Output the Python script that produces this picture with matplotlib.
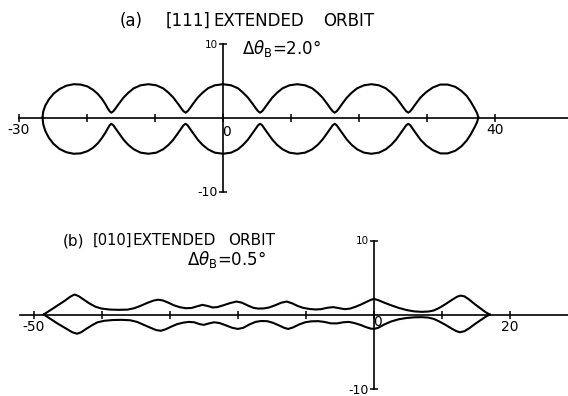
import matplotlib.pyplot as plt

W, H = 568, 396

# ---- panel (a): [111] extended orbit, dtheta_B = 2.0 deg
a_x = [-26.5, -26.4, -26.1, -25.6, -24.9, -24.0, -23.0, -21.9, -20.9, -19.9, -19.1, -18.4, -17.8, -17.3, -16.9, -16.65, -16.4,
       -16.1, -15.8, -15.3, -14.6, -13.9, -13.1, -12.1, -10.95, -9.8, -8.8, -8.0, -7.3, -6.6, -6.1, -5.8, -5.5,
       -5.2, -4.9, -4.4, -3.7, -3.0, -2.2, -1.2, 0.0, 1.2, 2.2, 2.95, 3.65, 4.35, 4.85, 5.15, 5.45,
       5.75, 6.05, 6.55, 7.25, 7.95, 8.75, 9.75, 10.9, 12.05, 13.1, 13.9, 14.6, 15.3, 15.8, 16.1, 16.4,
       16.7, 17.0, 17.5, 18.2, 18.9, 19.7, 20.7, 21.8, 22.9, 23.9, 24.7, 25.4, 26.1, 26.6, 26.9, 27.2,
       27.5, 27.8, 28.3, 29.0, 29.8, 30.8, 31.9, 33.0, 34.1, 35.0, 35.8, 36.4, 36.9, 37.3, 37.5]
a_top = [0.0, 0.8, 1.6, 2.4, 3.2, 3.85, 4.3, 4.5, 4.45, 4.2, 3.75, 3.2, 2.55, 1.85, 1.2, 0.85, 0.65,
         0.85, 1.2, 1.85, 2.7, 3.35, 3.95, 4.35, 4.5, 4.35, 3.95, 3.35, 2.7, 1.85, 1.2, 0.85, 0.65,
         0.85, 1.2, 1.85, 2.7, 3.35, 3.95, 4.35, 4.5, 4.35, 3.95, 3.35, 2.7, 1.85, 1.2, 0.85, 0.65,
         0.85, 1.2, 1.85, 2.7, 3.35, 3.95, 4.35, 4.5, 4.35, 3.95, 3.35, 2.7, 1.85, 1.2, 0.85, 0.65,
         0.85, 1.2, 1.85, 2.7, 3.35, 3.95, 4.35, 4.5, 4.35, 3.95, 3.35, 2.7, 1.85, 1.2, 0.85, 0.65,
         0.85, 1.2, 1.85, 2.7, 3.4, 4.05, 4.45, 4.45, 4.15, 3.6, 2.9, 2.1, 1.3, 0.6, 0.0]
a_bot = [0.0, -0.9, -1.8, -2.7, -3.55, -4.25, -4.7, -4.9, -4.85, -4.55, -4.1, -3.5, -2.8, -2.1, -1.45, -1.05, -0.85,
         -1.05, -1.45, -2.1, -3.0, -3.7, -4.3, -4.75, -4.9, -4.75, -4.3, -3.7, -3.0, -2.1, -1.45, -1.05, -0.85,
         -1.05, -1.45, -2.1, -3.0, -3.7, -4.3, -4.75, -4.9, -4.75, -4.3, -3.7, -3.0, -2.1, -1.45, -1.05, -0.85,
         -1.05, -1.45, -2.1, -3.0, -3.7, -4.3, -4.75, -4.9, -4.75, -4.3, -3.7, -3.0, -2.1, -1.45, -1.05, -0.85,
         -1.05, -1.45, -2.1, -3.0, -3.7, -4.3, -4.75, -4.9, -4.75, -4.3, -3.7, -3.0, -2.1, -1.45, -1.05, -0.85,
         -1.05, -1.45, -2.1, -3.0, -3.75, -4.4, -4.85, -4.85, -4.5, -3.9, -3.1, -2.25, -1.4, -0.65, 0.0]
a_ticks = [-30, -20, -10, 0, 10, 20, 30, 40]
a_ticklabels = ['-30', '', '', '', '', '', '', '40']

# ---- panel (b): [010] extended orbit, dtheta_B = 0.5 deg
b_top_x = [-48.5, -47.5, -46.5, -45.5, -44.6, -44.0, -43.4, -42.6, -41.8, -40.9, -40.0, -38.8, -37.5, -36.2,
           -35.2, -34.2, -33.2, -32.3, -31.7, -31.0, -30.2, -29.4, -28.5, -27.6, -26.8, -26.0, -25.2, -24.4,
           -23.7, -23.0, -22.1, -21.1, -20.2, -19.4, -18.5, -17.7, -17.0, -16.2, -15.4, -14.5, -13.6, -12.8,
           -12.0, -11.2, -10.4, -9.5, -8.6, -7.8, -6.9, -6.0, -5.1, -4.3, -3.5, -2.7, -1.9, -1.0, -0.4, 0.0,
           0.6, 1.5, 2.5, 3.6, 4.8, 5.9, 7.0, 8.0, 8.8, 9.6, 10.5, 11.4, 12.2, 12.7, 13.3, 14.0, 14.8, 15.6,
           16.4, 17.0]
b_top_y = [0.0, 0.6, 1.2, 1.8, 2.4, 2.7, 2.5, 2.0, 1.5, 1.05, 0.8, 0.67, 0.63, 0.66,
           0.85, 1.2, 1.6, 1.9, 2.0, 1.9, 1.6, 1.25, 0.98, 0.85, 0.88, 1.1, 1.3, 1.15,
           0.95, 1.0, 1.25, 1.55, 1.75, 1.6, 1.2, 0.9, 0.8, 0.82, 0.95, 1.25, 1.6, 1.75,
           1.5, 1.15, 0.9, 0.75, 0.68, 0.72, 0.9, 1.0, 0.85, 0.72, 0.8, 1.05, 1.35, 1.75, 2.0, 2.1,
           1.95, 1.6, 1.25, 0.9, 0.6, 0.42, 0.36, 0.4, 0.55, 0.9, 1.4, 1.95, 2.4, 2.55, 2.45, 2.0, 1.4, 0.85,
           0.3, 0.0]
b_bot_x = [-48.5, -47.5, -46.5, -45.4, -44.3, -43.6, -43.0, -42.2, -41.4, -40.6, -39.6, -38.4, -37.0, -35.8,
           -34.8, -33.8, -32.8, -32.0, -31.3, -30.6, -29.8, -28.9, -28.0, -27.2, -26.4, -25.6, -25.0, -24.2,
           -23.5, -22.7, -21.8, -20.8, -20.0, -19.2, -18.3, -17.4, -16.6, -15.7, -14.9, -14.0, -13.2, -12.6,
           -11.9, -11.0, -10.1, -9.2, -8.2, -7.3, -6.3, -5.4, -4.5, -3.7, -2.9, -2.0, -1.2, -0.5, 0.0,
           0.6, 1.5, 2.5, 3.6, 4.8, 5.9, 7.0, 8.0, 8.8, 9.6, 10.5, 11.4, 12.1, 12.6, 13.3, 14.0, 14.8, 15.6,
           16.4, 17.0]
b_bot_y = [0.0, -0.6, -1.2, -1.8, -2.4, -2.6, -2.4, -1.9, -1.45, -1.05, -0.85, -0.75, -0.72, -0.78,
           -1.0, -1.4, -1.8, -2.1, -2.2, -2.0, -1.65, -1.3, -1.1, -1.0, -1.05, -1.3, -1.4, -1.2,
           -1.05, -1.15, -1.45, -1.8, -1.95, -1.8, -1.35, -1.0, -0.88, -0.9, -1.1, -1.45, -1.8, -1.95,
           -1.75, -1.35, -1.05, -0.92, -0.9, -1.0, -1.2, -1.2, -1.05, -1.0, -1.15, -1.4, -1.7, -1.9, -1.95,
           -1.8, -1.35, -0.95, -0.65, -0.47, -0.38, -0.36, -0.42, -0.6, -0.95, -1.4, -1.9, -2.25, -2.4, -2.25,
           -1.85, -1.3, -0.8, -0.3, 0.0]
b_ticks = [-50, -40, -30, -20, -10, 0, 10, 20]
b_ticklabels = ['-50', '', '', '', '', '', '', '20']

fig = plt.figure(figsize=(W / 100, H / 100), dpi=100)


def panel(top_px, bot_px, x0_px, y0_px, xstart, sx=6.81, sy=7.4):
    # axes spanning full width, scaled so data origin sits at (x0_px, y0_px)
    ax = fig.add_axes([0, 1 - bot_px / H, 1, (bot_px - top_px) / H])
    ax.set_facecolor('none')
    xmax = (W - x0_px) / sx
    ax.set_xlim(-x0_px / sx, xmax)
    ax.set_ylim(-(bot_px - y0_px) / sy, (y0_px - top_px) / sy)
    for s in ['top', 'right']:
        ax.spines[s].set_visible(False)
    ax.spines['left'].set_position(('data', 0))
    ax.spines['bottom'].set_position(('data', 0))
    ax.spines['left'].set_bounds(-10, 10)
    ax.spines['bottom'].set_bounds(xstart, xmax)
    for s in ['left', 'bottom']:
        ax.spines[s].set_linewidth(1.2)
    ax.tick_params(axis='x', direction='inout', length=6, width=1.1, labelsize=10, pad=1)
    ax.tick_params(axis='y', direction='inout', length=6, width=1.1, pad=1)
    ax.set_yticks([-10, 10], labels=['-10', '10'])
    lbls = ax.get_yticklabels()
    lbls[0].set_fontsize(9)
    lbls[1].set_fontsize(7.5)
    return ax


def ftext(xpx, ypx, s, size):
    fig.text(xpx / W, 1 - ypx / H, s, fontsize=size, ha='left', va='baseline')


# (a)
ax1 = panel(0, 218, 223, 117.5, -30)
ax1.plot(a_x, a_top, color='black', lw=1.5, solid_joinstyle='round')
ax1.plot(a_x, a_bot, color='black', lw=1.5, solid_joinstyle='round')
ax1.set_xticks(a_ticks, labels=a_ticklabels)
ax1.text(0.55, -2.0, '0', fontsize=10, ha='center', va='center')

ftext(120, 26, '(a)', 12)
ftext(166, 26, '[111]', 12)
ftext(213, 26, 'EXTENDED', 12)
ftext(323, 26, 'ORBIT', 12)
ftext(242, 54, r'$\Delta\theta_{\mathrm{B}}$=2.0°', 12)

# (b)
ax2 = panel(218, 396, 374, 314.5, -52)
ax2.plot(b_top_x, b_top_y, color='black', lw=1.5, solid_joinstyle='round')
ax2.plot(b_bot_x, b_bot_y, color='black', lw=1.5, solid_joinstyle='round')
ax2.set_xticks(b_ticks, labels=b_ticklabels)
ax2.text(0.55, -0.95, '0', fontsize=10, ha='center', va='center')

ftext(63, 245, '(b)', 11)
ftext(93, 245, '[010]', 10.5)
ftext(133, 245, 'EXTENDED', 11)
ftext(228, 245, 'ORBIT', 11)
ftext(187, 265, r'$\Delta\theta_{\mathrm{B}}$=0.5°', 12)

fig.savefig('out.png', dpi=100)
